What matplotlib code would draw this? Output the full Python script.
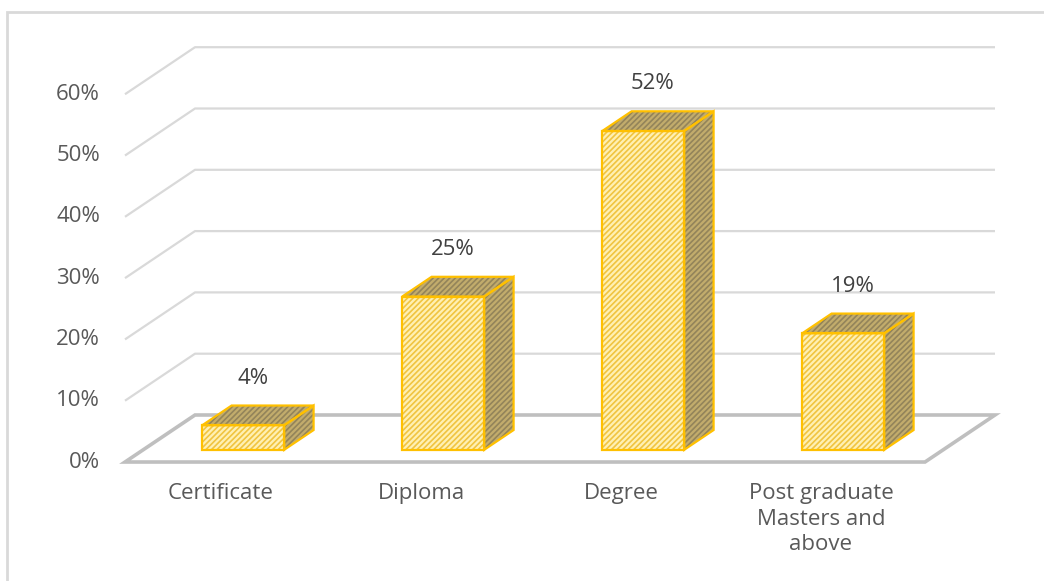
import numpy as np
import matplotlib.pyplot as plt
from matplotlib.patches import Polygon, Rectangle

plt.rcParams['font.family'] = ['Open Sans', 'DejaVu Sans']
plt.rcParams['hatch.linewidth'] = 1.2

# data
categories = ["Certificate", "Diploma", "Degree", "Post graduate\nMasters and\nabove"]
shares = [4, 25, 52, 19]          # percent
ticks = [0, 10, 20, 30, 40, 50, 60]

# pseudo-3d projection: x in category units, y in percent, z depth 0 (front) .. 1 (back)
DX, DY = 0.35, 7.67
def proj(x, y, z):
    return x + z * DX, y + z * DY

fig = plt.figure(figsize=(10.44, 5.81), dpi=100)
ax = fig.add_axes([0, 0, 1, 1])
ax.set_xlim(-1.125, 4.095)
ax.set_ylim(-19.41, 75.37)
ax.axis('off')

# outer frame
fig.patches.append(Rectangle((7 / 1044, -0.05), 1.2, 1.05 - 12 / 581, transform=fig.transFigure,
                             fill=False, edgecolor='#D9D9D9', lw=2))

x0, x1 = -0.5, len(categories) - 0.5
grid_c = '#D9D9D9'
fs = 16

# back wall + side wall gridlines
for t in ticks[1:]:
    p0, p1, p2 = proj(x0, t, 0), proj(x0, t, 1), proj(x1, t, 1)
    ax.plot([p0[0], p1[0], p2[0]], [p0[1], p1[1], p2[1]], color=grid_c, lw=1.6,
            solid_capstyle='butt', zorder=1)

# floor
floor = [proj(x0, 0, 0), proj(x1, 0, 0), proj(x1, 0, 1), proj(x0, 0, 1)]
ax.add_patch(Polygon(floor, closed=True, facecolor='white', edgecolor='#BFBFBF', lw=2.6, zorder=2))

# tick labels on the front plane
for t in ticks:
    ax.text(x0 - 0.125, t, f"{t}%", ha='right', va='center', fontsize=fs, color='#595959')

# bars
w, z0, z1 = 0.41, 0.26, 0.68
front_fc, front_hc = '#FFF0B3', '#F0C440'
side_fc, side_hc = '#C2AC6C', '#93845A'
edge = '#FFC000'

def face(pts, fc, hc):
    ax.add_patch(Polygon(pts, closed=True, facecolor=fc, edgecolor=hc, hatch='//////', lw=0, zorder=3))
    ax.add_patch(Polygon(pts, closed=True, fill=False, edgecolor=edge, lw=1.6, zorder=4))

for i, v in enumerate(shares):
    a, b = i - w / 2, i + w / 2
    side = [proj(b, 0, z0), proj(b, 0, z1), proj(b, v, z1), proj(b, v, z0)]
    top = [proj(a, v, z0), proj(b, v, z0), proj(b, v, z1), proj(a, v, z1)]
    front = [proj(a, 0, z0), proj(b, 0, z0), proj(b, v, z0), proj(a, v, z0)]
    face(side, side_fc, side_hc)
    face(top, side_fc, side_hc)
    face(front, front_fc, front_hc)
    lx, ly = proj(i, v + 6.6, 0.4)
    ax.text(lx, ly, f"{v}%", ha='center', va='center', fontsize=fs, color='#404040')

# category labels under the floor
for i, c in enumerate(categories):
    ax.text(i - 0.02, -3.4, c, ha='center', va='top', fontsize=fs, color='#595959',
            linespacing=1.3)

fig.savefig('out.png', dpi=100)
